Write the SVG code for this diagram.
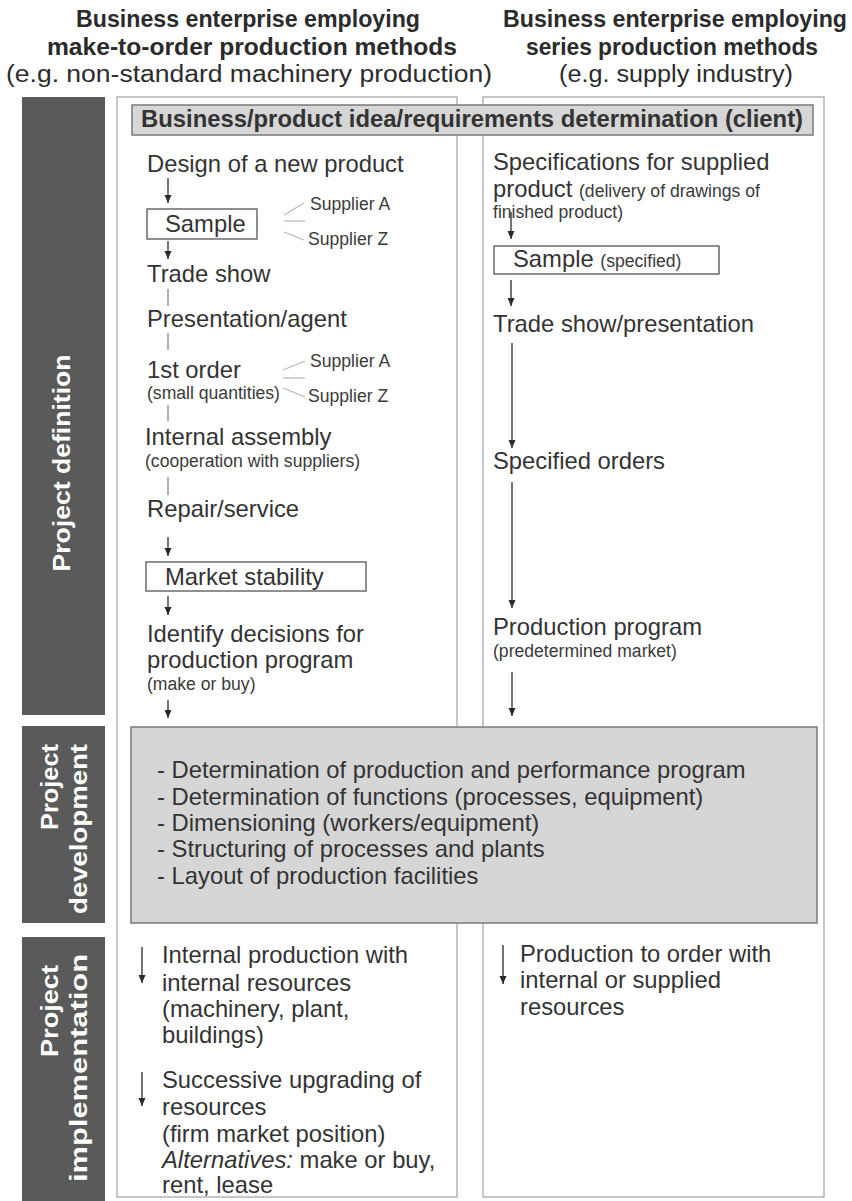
<svg xmlns="http://www.w3.org/2000/svg" width="852" height="1201" viewBox="0 0 852 1201">
  <defs>
    <marker id="arrowhead" viewBox="0 0 8 8" refX="8" refY="4" markerWidth="8" markerHeight="8" markerUnits="userSpaceOnUse" orient="auto">
      <path d="M0,0.5 L8,4 L0,7.5 z" fill="#2a2a2a"/>
    </marker>
    <style>
      .hd { font-family: "Liberation Sans", Arial, sans-serif; font-size: 23px; fill: #2b2b2b; text-anchor: middle; }
      .hdb { font-weight: bold; }
      .side { font-family: "Liberation Sans", Arial, sans-serif; font-size: 23px; font-weight: bold; fill: #ffffff; }
      .bar { fill: #5a5a5a; }
      .col { fill: #ffffff; stroke: #a8a8a8; stroke-width: 1.3; }
      .t { font-family: "Liberation Sans", Arial, sans-serif; font-size: 23.8px; fill: #333333; }
      .s { font-family: "Liberation Sans", Arial, sans-serif; font-size: 17.6px; fill: #3a3a3a; }
      .box { fill: #ffffff; stroke: #555555; stroke-width: 1.3; }
      .grey { fill: #d6d6d6; stroke: #7a7a7a; stroke-width: 1.5; }
      .arr { stroke: #2a2a2a; stroke-width: 1.3; fill: none; marker-end: url(#arrowhead); }
      .ln { stroke: #7a7a7a; stroke-width: 1.2; fill: none; }
      .sup { stroke: #b8b8b8; stroke-width: 1.2; fill: none; }
    </style>
  </defs>

  <rect width="852" height="1201" fill="#ffffff"/>

  <!-- column headings -->
  <g id="heading-left">
    <text class="hd hdb" x="248" y="27" textLength="344" lengthAdjust="spacingAndGlyphs">Business enterprise employing</text>
    <text class="hd hdb" x="252" y="55" textLength="410" lengthAdjust="spacingAndGlyphs">make-to-order production methods</text>
    <text class="hd" x="249" y="82" textLength="486" lengthAdjust="spacingAndGlyphs">(e.g. non-standard machinery production)</text>
  </g>
  <g id="heading-right">
    <text class="hd hdb" x="675" y="27" textLength="344" lengthAdjust="spacingAndGlyphs">Business enterprise employing</text>
    <text class="hd hdb" x="672" y="55" textLength="292" lengthAdjust="spacingAndGlyphs">series production methods</text>
    <text class="hd" x="676" y="82" textLength="234" lengthAdjust="spacingAndGlyphs">(e.g. supply industry)</text>
  </g>

  <!-- column frames -->
  <g id="columns">
    <rect class="col" x="117" y="97" width="340" height="1100"/>
    <rect class="col" x="483" y="97" width="341" height="1100"/>
  </g>

  <!-- phase bars -->
  <g id="phase-definition">
    <rect class="bar" x="22" y="97" width="83" height="618"/>
    <text class="side" transform="translate(70,463) rotate(-90)" text-anchor="middle" textLength="217" lengthAdjust="spacingAndGlyphs">Project definition</text>
  </g>
  <g id="phase-development">
    <rect class="bar" x="22" y="726" width="83" height="197"/>
    <text class="side" transform="translate(58,830) rotate(-90)" textLength="86" lengthAdjust="spacingAndGlyphs">Project</text>
    <text class="side" transform="translate(87,914) rotate(-90)" textLength="170" lengthAdjust="spacingAndGlyphs">development</text>
  </g>
  <g id="phase-implementation">
    <rect class="bar" x="22" y="937" width="83" height="264"/>
    <text class="side" transform="translate(58,1057) rotate(-90)" textLength="92" lengthAdjust="spacingAndGlyphs">Project</text>
    <text class="side" transform="translate(87,1182) rotate(-90)" textLength="228" lengthAdjust="spacingAndGlyphs">implementation</text>
  </g>

  <!-- top banner across both columns -->
  <g id="idea">
    <rect class="grey" x="132" y="105" width="681" height="30"/>
    <text class="t" x="472" y="127" text-anchor="middle" font-weight="bold" font-size="20" textLength="662" lengthAdjust="spacingAndGlyphs">Business/product idea/requirements determination (client)</text>
  </g>

  <!-- make-to-order column -->
  <g id="design"><text class="t" x="147" y="172">Design of a new product</text></g>
  <g id="sample-left">
    <rect class="box" x="147" y="209" width="110" height="30"/>
    <text class="t" x="165" y="232">Sample</text>
  </g>
  <g id="suppliers-sample">
    <text class="s" x="310" y="210">Supplier A</text>
    <text class="s" x="308" y="245">Supplier Z</text>
  </g>
  <g id="trade-show"><text class="t" x="147" y="282">Trade show</text></g>
  <g id="presentation"><text class="t" x="147" y="327">Presentation/agent</text></g>
  <g id="first-order">
    <text class="t" x="147" y="378">1st order</text>
    <text class="s" x="147" y="399">(small quantities)</text>
  </g>
  <g id="suppliers-order">
    <text class="s" x="310" y="367">Supplier A</text>
    <text class="s" x="308" y="402">Supplier Z</text>
  </g>
  <g id="assembly">
    <text class="t" x="145" y="445">Internal assembly</text>
    <text class="s" x="145" y="467">(cooperation with suppliers)</text>
  </g>
  <g id="repair"><text class="t" x="147" y="517">Repair/service</text></g>
  <g id="market-stability">
    <rect class="box" x="146" y="562" width="220" height="29"/>
    <text class="t" x="165" y="585">Market stability</text>
  </g>
  <g id="decisions">
    <text class="t" x="147" y="642">Identify decisions for</text>
    <text class="t" x="147" y="668">production program</text>
    <text class="s" x="147" y="690">(make or buy)</text>
  </g>

  <!-- series production column -->
  <g id="specifications">
    <text class="t" x="493" y="170">Specifications for supplied</text>
    <text class="t" x="493" y="197">product <tspan class="s">(delivery of drawings of</tspan></text>
    <text class="s" x="493" y="218">finished product)</text>
  </g>
  <g id="sample-right">
    <rect class="box" x="494" y="246" width="225" height="28"/>
    <text class="t" x="513" y="267">Sample <tspan class="s">(specified)</tspan></text>
  </g>
  <g id="trade-show-presentation"><text class="t" x="493" y="332">Trade show/presentation</text></g>
  <g id="specified-orders"><text class="t" x="493" y="469">Specified orders</text></g>
  <g id="production-program">
    <text class="t" x="493" y="635">Production program</text>
    <text class="s" x="493" y="657">(predetermined market)</text>
  </g>

  <!-- shared development block -->
  <g id="development">
    <rect class="grey" x="131" y="727" width="686" height="196" fill="#d9d9d9"/>
    <text class="t" x="157" y="778">- Determination of production and performance program</text>
    <text class="t" x="157" y="805">- Determination of functions (processes, equipment)</text>
    <text class="t" x="157" y="831">- Dimensioning (workers/equipment)</text>
    <text class="t" x="157" y="857">- Structuring of processes and plants</text>
    <text class="t" x="157" y="884">- Layout of production facilities</text>
  </g>

  <!-- implementation -->
  <g id="internal-production">
    <text class="t" x="162" y="963">Internal production with</text>
    <text class="t" x="162" y="991">internal resources</text>
    <text class="t" x="162" y="1017">(machinery, plant,</text>
    <text class="t" x="162" y="1043">buildings)</text>
  </g>
  <g id="upgrading">
    <text class="t" x="162" y="1088">Successive upgrading of</text>
    <text class="t" x="162" y="1115">resources</text>
    <text class="t" x="162" y="1142">(firm market position)</text>
    <text class="t" x="162" y="1168"><tspan font-style="italic">Alternatives:</tspan> make or buy,</text>
    <text class="t" x="162" y="1193">rent, lease</text>
  </g>
  <g id="production-to-order">
    <text class="t" x="520" y="962">Production to order with</text>
    <text class="t" x="520" y="988">internal or supplied</text>
    <text class="t" x="520" y="1015">resources</text>
  </g>

  <!-- connectors -->
  <g id="connectors">
    <line class="arr" x1="168" y1="178" x2="168" y2="203"/>
    <line class="arr" x1="168" y1="241" x2="168" y2="259"/>
    <line class="ln" x1="168" y1="289" x2="168" y2="306"/>
    <line class="ln" x1="168" y1="333" x2="168" y2="350"/>
    <line class="ln" x1="168" y1="405" x2="168" y2="421"/>
    <line class="ln" x1="168" y1="477" x2="168" y2="495"/>
    <line class="arr" x1="168" y1="537" x2="168" y2="556"/>
    <line class="arr" x1="168" y1="596" x2="168" y2="615"/>
    <line class="arr" x1="168" y1="700" x2="168" y2="718"/>

    <line class="sup" x1="284" y1="215" x2="304" y2="203"/>
    <line class="sup" x1="284" y1="221" x2="305" y2="221"/>
    <line class="sup" x1="284" y1="232" x2="304" y2="240"/>
    <line class="sup" x1="283" y1="370" x2="305" y2="361"/>
    <line class="sup" x1="283" y1="378" x2="305" y2="378"/>
    <line class="sup" x1="283" y1="388" x2="305" y2="397"/>

    <line class="arr" x1="511" y1="212" x2="511" y2="239"/>
    <line class="arr" x1="511" y1="280" x2="511" y2="306"/>
    <line class="arr" x1="512" y1="343" x2="512" y2="448"/>
    <line class="arr" x1="512" y1="482" x2="512" y2="608"/>
    <line class="arr" x1="512" y1="672" x2="512" y2="716"/>

    <line class="arr" x1="142" y1="947" x2="142" y2="983"/>
    <line class="arr" x1="142" y1="1072" x2="142" y2="1106"/>
    <line class="arr" x1="503" y1="945" x2="503" y2="984"/>
  </g>
</svg>
